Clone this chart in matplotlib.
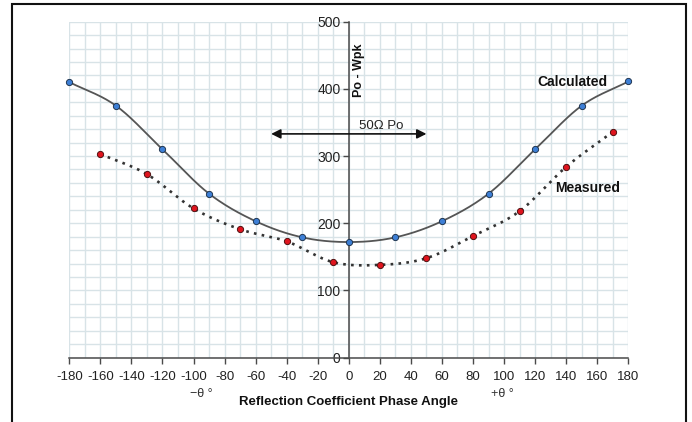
import numpy as np
import matplotlib
matplotlib.use("Agg")
import matplotlib.pyplot as plt
from matplotlib.patches import Rectangle

plt.rcParams['font.family'] = ['Liberation Sans', 'DejaVu Sans']

# Reflection coefficient phase angle (degrees) and output power (W peak)
calc_angle = [-180, -150, -120, -90, -60, -30, 0, 30, 60, 90, 120, 150, 180]
calc_power = [410, 375, 310, 244, 203, 179, 172, 179, 203, 244, 310, 375, 411]

meas_angle = [-160, -130, -100, -70, -40, -10, 20, 50, 80, 110, 140, 170]
meas_power = [303, 273, 222, 191, 173, 142, 138, 148, 181, 218, 284, 336]

x_ticks = list(range(-180, 181, 20))
y_ticks = [0, 100, 200, 300, 400, 500]


def smooth(xs, ys, n=30):
    """Catmull-Rom spline through the points, like a smoothed chart line."""
    p = np.column_stack([xs, ys]).astype(float)
    p = np.vstack([2 * p[0] - p[1], p, 2 * p[-1] - p[-2]])
    out = []
    t = np.linspace(0, 1, n)[:, None]
    for i in range(1, len(p) - 2):
        p0, p1, p2, p3 = p[i - 1], p[i], p[i + 1], p[i + 2]
        seg = 0.5 * ((2 * p1) + (-p0 + p2) * t + (2 * p0 - 5 * p1 + 4 * p2 - p3) * t ** 2
                     + (-p0 + 3 * p1 - 3 * p2 + p3) * t ** 3)
        out.append(seg if i == 1 else seg[1:])
    out = np.vstack(out)
    return out[:, 0], out[:, 1]


fig = plt.figure(figsize=(6.92, 4.22), dpi=100)
ax = fig.add_axes([69.3 / 692, 1 - 357.6 / 422, 559 / 692, 335.9 / 422])

ax.set_xlim(-180, 180)
ax.set_ylim(0, 500)

# light graph-paper grid
grid_c = '#d8e3e7'
for gx in range(-180, 181, 10):
    ax.axvline(gx, color=grid_c, lw=1.0, zorder=0)
for gy in range(0, 501, 20):
    ax.axhline(gy, color=grid_c, lw=1.0, zorder=0)

# curves
cx, cy = smooth(calc_angle, calc_power)
ax.plot(cx, cy, color='#555555', lw=1.3, zorder=2, solid_capstyle='round')
mx, my = smooth(meas_angle, meas_power)
ax.plot(mx, my, color='#333333', lw=1.9, ls=(0, (1, 2.0)), zorder=2)

ax.scatter(calc_angle, calc_power, s=20, color='#3d7fd6', edgecolor='#1f3550',
           linewidth=0.7, zorder=3, clip_on=False)
ax.scatter(meas_angle, meas_power, s=20, color='#e0141e', edgecolor='#501010',
           linewidth=0.7, zorder=3, clip_on=False)

# axes through the origin
for s in ['top', 'right']:
    ax.spines[s].set_visible(False)
ax.spines['left'].set_position(('data', 0))
ax.spines['bottom'].set_position(('data', 0))
ax.spines['left'].set_color('#4a4a4a')
ax.spines['bottom'].set_color('#4a4a4a')
ax.spines['left'].set_linewidth(1.1)
ax.spines['bottom'].set_linewidth(1.1)

ax.set_xticks(x_ticks)
ax.set_xticklabels([str(v) for v in x_ticks])
ax.set_yticks(y_ticks)
ax.set_yticklabels([str(v) for v in y_ticks])
ax.tick_params(axis='x', direction='out', length=4, width=1, color='#4a4a4a',
               labelsize=9.5, pad=6, labelcolor='#222222')
ax.tick_params(axis='y', direction='out', length=4, width=1, color='#4a4a4a',
               labelsize=10, pad=2, labelcolor='#222222')

# annotations
ax.text(6.4, 428, 'Po - Wpk', rotation=90, ha='center', va='center',
        fontsize=9, fontweight='bold', color='#111111')
ax.text(144, 410, 'Calculated', ha='center', va='center', fontsize=10,
        fontweight='bold', color='#111111')
ax.text(154, 252, 'Measured', ha='center', va='center', fontsize=10,
        fontweight='bold', color='#111111')
ax.annotate('', xy=(-50, 333), xytext=(50, 333),
            arrowprops=dict(arrowstyle='<|-|>', color='#111111', lw=1.2,
                            mutation_scale=14, shrinkA=0, shrinkB=0))
ax.text(21, 345, '50Ω Po', ha='center', va='center', fontsize=9.5, color='#222222')

ax.text(-95, -54, '−θ °', ha='center', va='center', fontsize=9,
        color='#333333', clip_on=False)
ax.text(99, -54, '+θ °', ha='center', va='center', fontsize=9,
        color='#333333', clip_on=False)
ax.text(0, -66, 'Reflection Coefficient Phase Angle', ha='center', va='center',
        fontsize=9.5, fontweight='bold', color='#111111', clip_on=False)

# outer frame
fig.patches.append(Rectangle((12 / 692, -0.05), 674 / 692, 1.05 - 3.5 / 422,
                             transform=fig.transFigure, fill=False,
                             edgecolor='#111111', lw=1.5))

fig.savefig('out.png', dpi=100)
